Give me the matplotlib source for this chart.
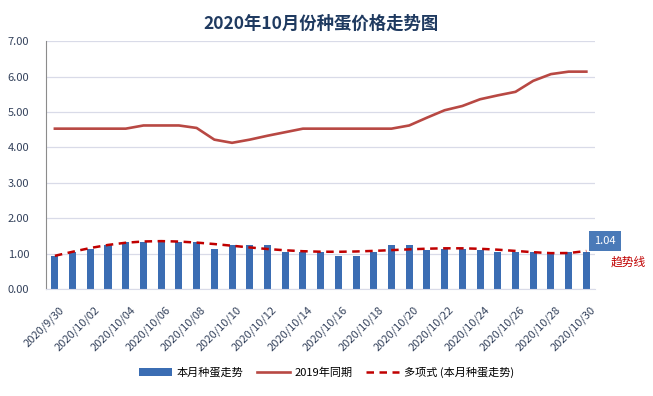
import numpy as np
import matplotlib
matplotlib.use('Agg')
import matplotlib.pyplot as plt
import matplotlib.transforms as mtransforms
from matplotlib.lines import Line2D
from matplotlib.patches import Patch

plt.rcParams['font.family'] = ['Noto Sans CJK SC', 'DejaVu Sans']

dates = ['2020/9/30'] + ['2020/10/%02d' % d for d in range(1, 31)]
price_2020 = [0.94, 1.06, 1.14, 1.25, 1.34, 1.34, 1.34, 1.34, 1.34, 1.14,
              1.25, 1.25, 1.25, 1.06, 1.06, 1.06, 0.94, 0.94, 1.06, 1.25,
              1.25, 1.11, 1.14, 1.14, 1.11, 1.06, 1.06, 1.06, 1.04, 1.06, 1.04]
price_2019 = [4.53, 4.53, 4.53, 4.53, 4.53, 4.62, 4.62, 4.62, 4.55, 4.22,
              4.13, 4.22, 4.33, 4.43, 4.53, 4.53, 4.53, 4.53, 4.53, 4.53,
              4.62, 4.84, 5.05, 5.17, 5.36, 5.47, 5.57, 5.88, 6.07, 6.14, 6.14]

x = np.arange(1, len(dates) + 1)
# excel style polynomial trendline
coef = np.polyfit(x, price_2020, 6)
trend = np.polyval(coef, x)

fig = plt.figure(figsize=(6.53, 3.96), dpi=100)
ax = fig.add_axes([0.0705, 0.27, 0.841, 0.626])

ax.bar(x, price_2020, width=0.4, color='#3b6db3', zorder=2)
ax.plot(x, price_2019, color='#b84843', linewidth=1.9, zorder=3)
ax.plot(x, trend, color='#c00000', linewidth=1.8, linestyle=(0, (3, 2.2)), zorder=4)

ax.set_xlim(0.5, len(dates) + 0.5)
ax.set_ylim(0, 7)
ax.set_yticks(np.arange(0, 7.01, 1))
ax.set_yticklabels(['%.2f' % v for v in np.arange(0, 7.01, 1)], fontsize=8, color='#34425c')
ax.set_xticks(x[::2])
ax.set_xticklabels(dates[::2], rotation=45, ha='right', rotation_mode='anchor',
                   fontsize=8, color='#34425c')
ax.tick_params(axis='y', length=0, pad=12)
ax.tick_params(axis='x', length=0, pad=11)
shift = mtransforms.ScaledTranslation(4 / 100, 0, fig.dpi_scale_trans)
for lab in ax.get_xticklabels():
    lab.set_transform(lab.get_transform() + shift)
ax.grid(axis='y', color='#d9dbe8', linewidth=0.9, zorder=0)
for s in ['top', 'right']:
    ax.spines[s].set_visible(False)
ax.spines['left'].set_color('#8c8c8c')
ax.spines['bottom'].set_color('#d9dbe8')

ax.set_title('2020年10月份种蛋价格走势图', fontsize=12.5, fontweight='bold',
             color='#1f3a60', pad=9)

ax.text(x[-1] + 0.45, price_2020[-1] + 0.33, '%.2f' % price_2020[-1], fontsize=8,
        color='white', ha='left', va='center', clip_on=False,
        bbox=dict(boxstyle='square,pad=0.45', facecolor='#4a7ab8', edgecolor='none'))
ax.text(x[-1] + 1.35, price_2020[-1] - 0.28, '趋势线', fontsize=8.5, color='#c00000',
        ha='left', va='center', clip_on=False)

handles = [Patch(facecolor='#3b6db3'),
           Line2D([0], [0], color='#b84843', linewidth=1.9),
           Line2D([0], [0], color='#c00000', linewidth=1.8, linestyle=(0, (3, 2.2)))]
labels = ['本月种蛋走势', '2019年同期', '多项式 (本月种蛋走势)']
fig.legend(handles, labels, loc='center', bbox_to_anchor=(0.5, 0.06), ncol=3,
           frameon=False, fontsize=8, handlelength=3, columnspacing=1.2,
           handletextpad=0.4)

fig.savefig('out.png', dpi=100)
